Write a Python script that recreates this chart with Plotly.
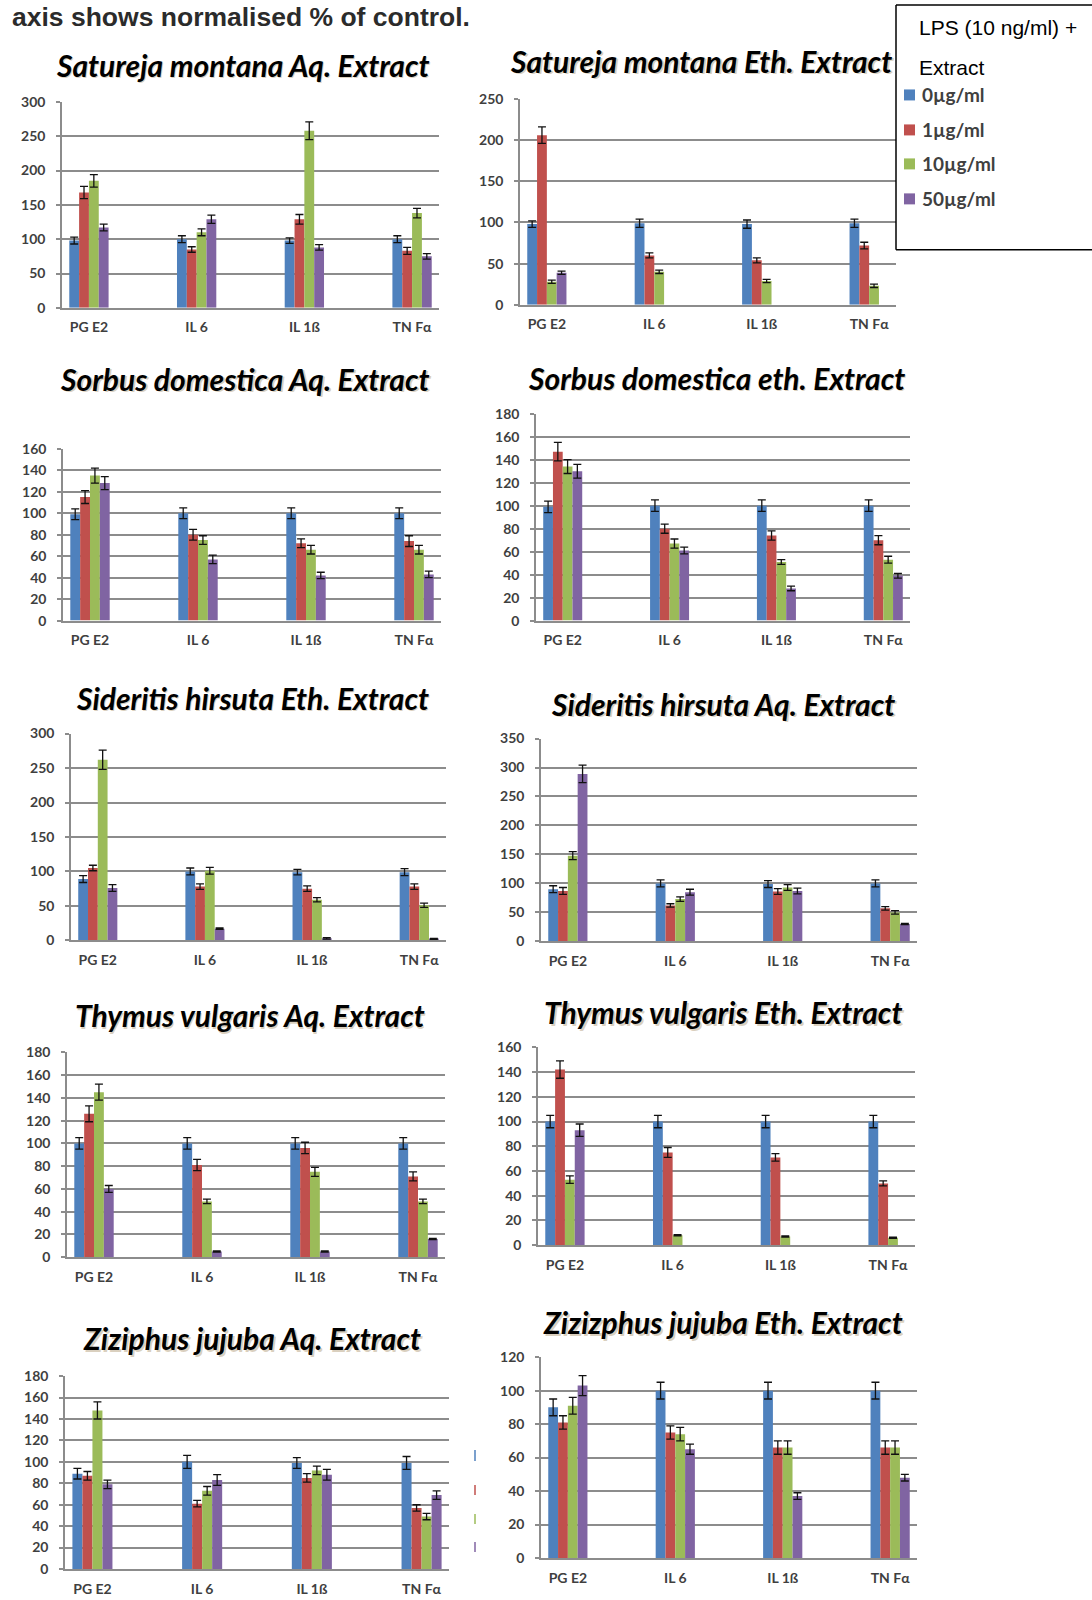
import plotly.graph_objects as go

# ---------------- data ----------------
CATEGORIES = ["PG E2", "IL 6", "IL 1ß", "TN Fα"]
SERIES = ["0µg/ml", "1µg/ml", "10µg/ml", "50µg/ml"]
COLORS = ["#4F81BD", "#C0504D", "#9BBB59", "#8064A2"]
LEGEND_TITLE = ["LPS (10 ng/ml) +", "Extract"]
NOTE = "axis shows normalised % of control."

TITLES = [
    "Satureja montana Aq. Extract", "Satureja montana Eth. Extract",
    "Sorbus domestica Aq. Extract", "Sorbus domestica eth. Extract",
    "Sideritis hirsuta Eth. Extract", "Sideritis hirsuta Aq. Extract",
    "Thymus vulgaris Aq. Extract", "Thymus vulgaris Eth. Extract",
    "Ziziphus jujuba Aq. Extract", "Zizizphus jujuba Eth. Extract",
]

# values per series (rows: 0, 1, 10, 50 µg/ml; columns: categories)
SM_AQ = [[98, 100, 98, 100], [168, 85, 129, 83], [185, 110, 258, 138], [117, 129, 88, 75]]
SM_AQ_ERR = [[5, 5, 4, 5], [9, 4, 7, 5], [9, 5, 13, 7], [5, 6, 4, 4]]

SM_ETH = [[98, 99, 98, 99], [206, 60, 54, 72], [28, 40, 29, 23], [39, None, None, None]]
SM_ETH_ERR = [[4, 5, 5, 5], [10, 3, 3, 4], [2, 2, 2, 2], [2, 0, 0, 0]]

SD_AQ = [[99, 100, 100, 100], [115, 80, 72, 74], [135, 75, 66, 66], [128, 57, 42, 43]]
SD_AQ_ERR = [[5, 5, 5, 5], [6, 5, 4, 5], [7, 4, 4, 4], [6, 4, 3, 3]]

SD_ETH = [[99, 100, 100, 100], [147, 80, 74, 70], [134, 67, 51, 53], [130, 61, 28, 39]]
SD_ETH_ERR = [[5, 5, 5, 5], [8, 4, 4, 4], [6, 4, 2, 3], [6, 3, 2, 2]]

SH_ETH = [[89, 100, 99, 99], [105, 78, 75, 78], [262, 101, 59, 51], [76, 17, 3, 2]]
SH_ETH_ERR = [[5, 5, 4, 5], [4, 4, 4, 4], [14, 5, 3, 3], [5, 1, 1, 1]]

SH_AQ = [[90, 100, 99, 100], [87, 62, 86, 57], [148, 73, 93, 50], [289, 85, 87, 30]]
SH_AQ_ERR = [[6, 6, 6, 6], [6, 3, 5, 3], [7, 4, 5, 3], [15, 5, 5, 1]]

TV_AQ = [[100, 100, 100, 100], [126, 81, 96, 71], [145, 49, 75, 49], [60, 5, 5, 16]]
TV_AQ_ERR = [[5, 5, 5, 5], [7, 5, 5, 4], [7, 2, 4, 2], [3, 0.5, 0.5, 0.5]]

TV_ETH = [[100, 100, 100, 100], [142, 75, 71, 50], [53, 8, 7, 6], [93, None, None, None]]
TV_ETH_ERR = [[5, 5, 5, 5], [7, 4, 3, 2], [3, 0.5, 0.5, 0.5], [5, 0, 0, 0]]

ZJ_AQ = [[89, 100, 99, 99], [87, 61, 85, 57], [148, 73, 92, 49], [79, 83, 88, 69]]
ZJ_AQ_ERR = [[5, 6, 5, 6], [4, 3, 4, 3], [8, 4, 4, 3], [4, 5, 5, 4]]

ZJ_ETH = [[90, 100, 100, 100], [81, 75, 66, 66], [91, 74, 66, 66], [103, 65, 37, 48]]
ZJ_ETH_ERR = [[5, 5, 5, 5], [4, 4, 4, 4], [5, 4, 4, 4], [6, 3, 2, 2]]

Y_MAX = [300, 250, 160, 180, 300, 350, 180, 160, 180, 120]
Y_STEP = [50, 50, 20, 20, 50, 50, 20, 20, 20, 20]

PANEL_DATA = [
    (SM_AQ, SM_AQ_ERR), (SM_ETH, SM_ETH_ERR),
    (SD_AQ, SD_AQ_ERR), (SD_ETH, SD_ETH_ERR),
    (SH_ETH, SH_ETH_ERR), (SH_AQ, SH_AQ_ERR),
    (TV_AQ, TV_AQ_ERR), (TV_ETH, TV_ETH_ERR),
    (ZJ_AQ, ZJ_AQ_ERR), (ZJ_ETH, ZJ_ETH_ERR),
]

# ---------------- layout (pixel boxes) ----------------
W, H = 1092, 1600
# (x0, x1, ytop, ybottom) of plot areas, and title centre (x, y)
BOXES = [
    (62, 439, 101, 307), (520, 896, 98, 304),
    (63, 441, 448, 620), (536, 910, 413, 620),
    (71, 446, 733, 940), (541, 917, 738, 941),
    (67, 445, 1052, 1257), (538, 915, 1047, 1245),
    (65, 449, 1376, 1569), (541, 917, 1357, 1558),
]
TITLE_POS = [
    (243, 64), (701, 60),
    (245, 378), (716, 377),
    (252, 697), (723, 703),
    (250, 1015), (723, 1012),
    (252, 1338), (723, 1322),
]

# rendered page offsets the drawing by ~8px and compresses it vertically
Y_OFF, Y_SCALE = 8.0, 0.99


def px(x):
    return x / W


def py(y):
    return 1 - ((y - Y_OFF) / Y_SCALE) / H


GRID = "#8c8c8c"
TICKFONT = dict(family="Lato", size=14, color="#3f3f3f", weight="bold")
TITLE_SIZE = 30

fig = go.Figure()
layout = {}
annotations = []
shapes = []

for i, ((vals, errs), box) in enumerate(zip(PANEL_DATA, BOXES)):
    n = i + 1
    xa = "x" if n == 1 else f"x{n}"
    ya = "y" if n == 1 else f"y{n}"
    for s in range(4):
        fig.add_trace(go.Bar(
            x=CATEGORIES, y=vals[s], name=SERIES[s],
            marker=dict(color=COLORS[s], line=dict(width=0)),
            error_y=dict(type="data", array=errs[s], visible=True,
                         color="#111111", thickness=1.3, width=4),
            xaxis=xa, yaxis=ya, showlegend=False,
        ))
    x0, x1, yt, yb = box
    layout[f"xaxis{'' if n == 1 else n}"] = dict(
        domain=[px(x0), px(x1)], anchor=ya, type="category",
        range=[-0.25, 3.25], showgrid=False, zeroline=False,
        showline=True, linecolor=GRID, linewidth=1.5,
        ticks="", tickfont=TICKFONT, ticklabelstandoff=6, fixedrange=True,
    )
    layout[f"yaxis{'' if n == 1 else n}"] = dict(
        domain=[py(yb), py(yt)], anchor=xa,
        range=[0, Y_MAX[i]], dtick=Y_STEP[i], tick0=0,
        showgrid=True, gridcolor=GRID, gridwidth=1.5, zeroline=False,
        showline=True, linecolor=GRID, linewidth=1.5,
        ticks="outside", ticklen=4, tickcolor=GRID, tickwidth=1.5,
        tickfont=TICKFONT, ticklabelstandoff=8, fixedrange=True,
    )
    tx, ty = TITLE_POS[i]
    annotations.append(dict(
        text=TITLES[i], x=px(tx) + 1.5 / W, y=py(ty) - 1.5 / H,
        xref="paper", yref="paper", showarrow=False,
        xanchor="center", yanchor="middle",
        font=dict(family="Lato", size=TITLE_SIZE, color="rgba(150,120,70,0.35)",
                  weight="bold", style="italic"),
    ))
    annotations.append(dict(
        text=TITLES[i], x=px(tx), y=py(ty), xref="paper", yref="paper",
        showarrow=False, xanchor="center", yanchor="middle",
        font=dict(family="Lato", size=TITLE_SIZE, color="#000000",
                  weight="bold", style="italic"),
    ))

# top note
annotations.append(dict(
    text=NOTE, x=px(10), y=py(16), xref="paper", yref="paper",
    showarrow=False, xanchor="left", yanchor="middle",
    font=dict(family="Liberation Sans", size=26.5, color="#2b2b2b", weight="bold"),
))

# legend box: white panel with a border on the top, left and bottom only
LB_X0, LB_TOP, LB_BOT = 896, 4, 249
shapes.append(dict(type="rect", xref="paper", yref="paper",
                   x0=px(LB_X0), x1=1.0, y0=py(LB_BOT), y1=py(LB_TOP),
                   line=dict(width=0), fillcolor="white", layer="above"))
for (ax0, ay0, ax1, ay1) in [(LB_X0, LB_TOP, W + 40, LB_TOP),
                             (LB_X0, LB_BOT, W + 40, LB_BOT),
                             (LB_X0, LB_TOP, LB_X0, LB_BOT)]:
    shapes.append(dict(type="line", xref="paper", yref="paper",
                       x0=px(ax0), x1=px(ax1), y0=py(ay0), y1=py(ay1),
                       line=dict(color="#000000", width=1.5), layer="above"))
annotations.append(dict(
    text=LEGEND_TITLE[0], x=px(917), y=py(27), xref="paper", yref="paper",
    showarrow=False, xanchor="left", yanchor="middle",
    font=dict(family="Liberation Sans", size=21, color="#000000"),
))
annotations.append(dict(
    text=LEGEND_TITLE[1], x=px(917), y=py(67), xref="paper", yref="paper",
    showarrow=False, xanchor="left", yanchor="middle",
    font=dict(family="Liberation Sans", size=21, color="#000000"),
))
LEG_Y = [94, 129, 163, 198]
for s in range(4):
    shapes.append(dict(type="rect", xref="paper", yref="paper",
                       x0=px(904), x1=px(915), y0=py(LEG_Y[s] + 5.5), y1=py(LEG_Y[s] - 5.5),
                       line=dict(width=0), fillcolor=COLORS[s], layer="above"))
    annotations.append(dict(
        text=SERIES[s], x=px(920), y=py(LEG_Y[s]), xref="paper", yref="paper",
        showarrow=False, xanchor="left", yanchor="middle",
        font=dict(family="Lato", size=19, color="#404040", weight="bold"),
    ))

# remnant legend marks to the left of the last panel
STRAY_Y = [(1450, 1461), (1485, 1495), (1514, 1524), (1542, 1552)]
for s in range(4):
    shapes.append(dict(type="line", xref="paper", yref="paper",
                       x0=px(475), x1=px(475), y0=py(STRAY_Y[s][1]), y1=py(STRAY_Y[s][0]),
                       line=dict(color=COLORS[s], width=1.5)))

fig.update_layout(
    width=W, height=H, margin=dict(l=0, r=0, t=0, b=0),
    paper_bgcolor="white", plot_bgcolor="white",
    barmode="group", bargap=0.635, bargroupgap=0,
    showlegend=False, annotations=annotations, shapes=shapes,
    **layout,
)

fig.write_html("out.html")
